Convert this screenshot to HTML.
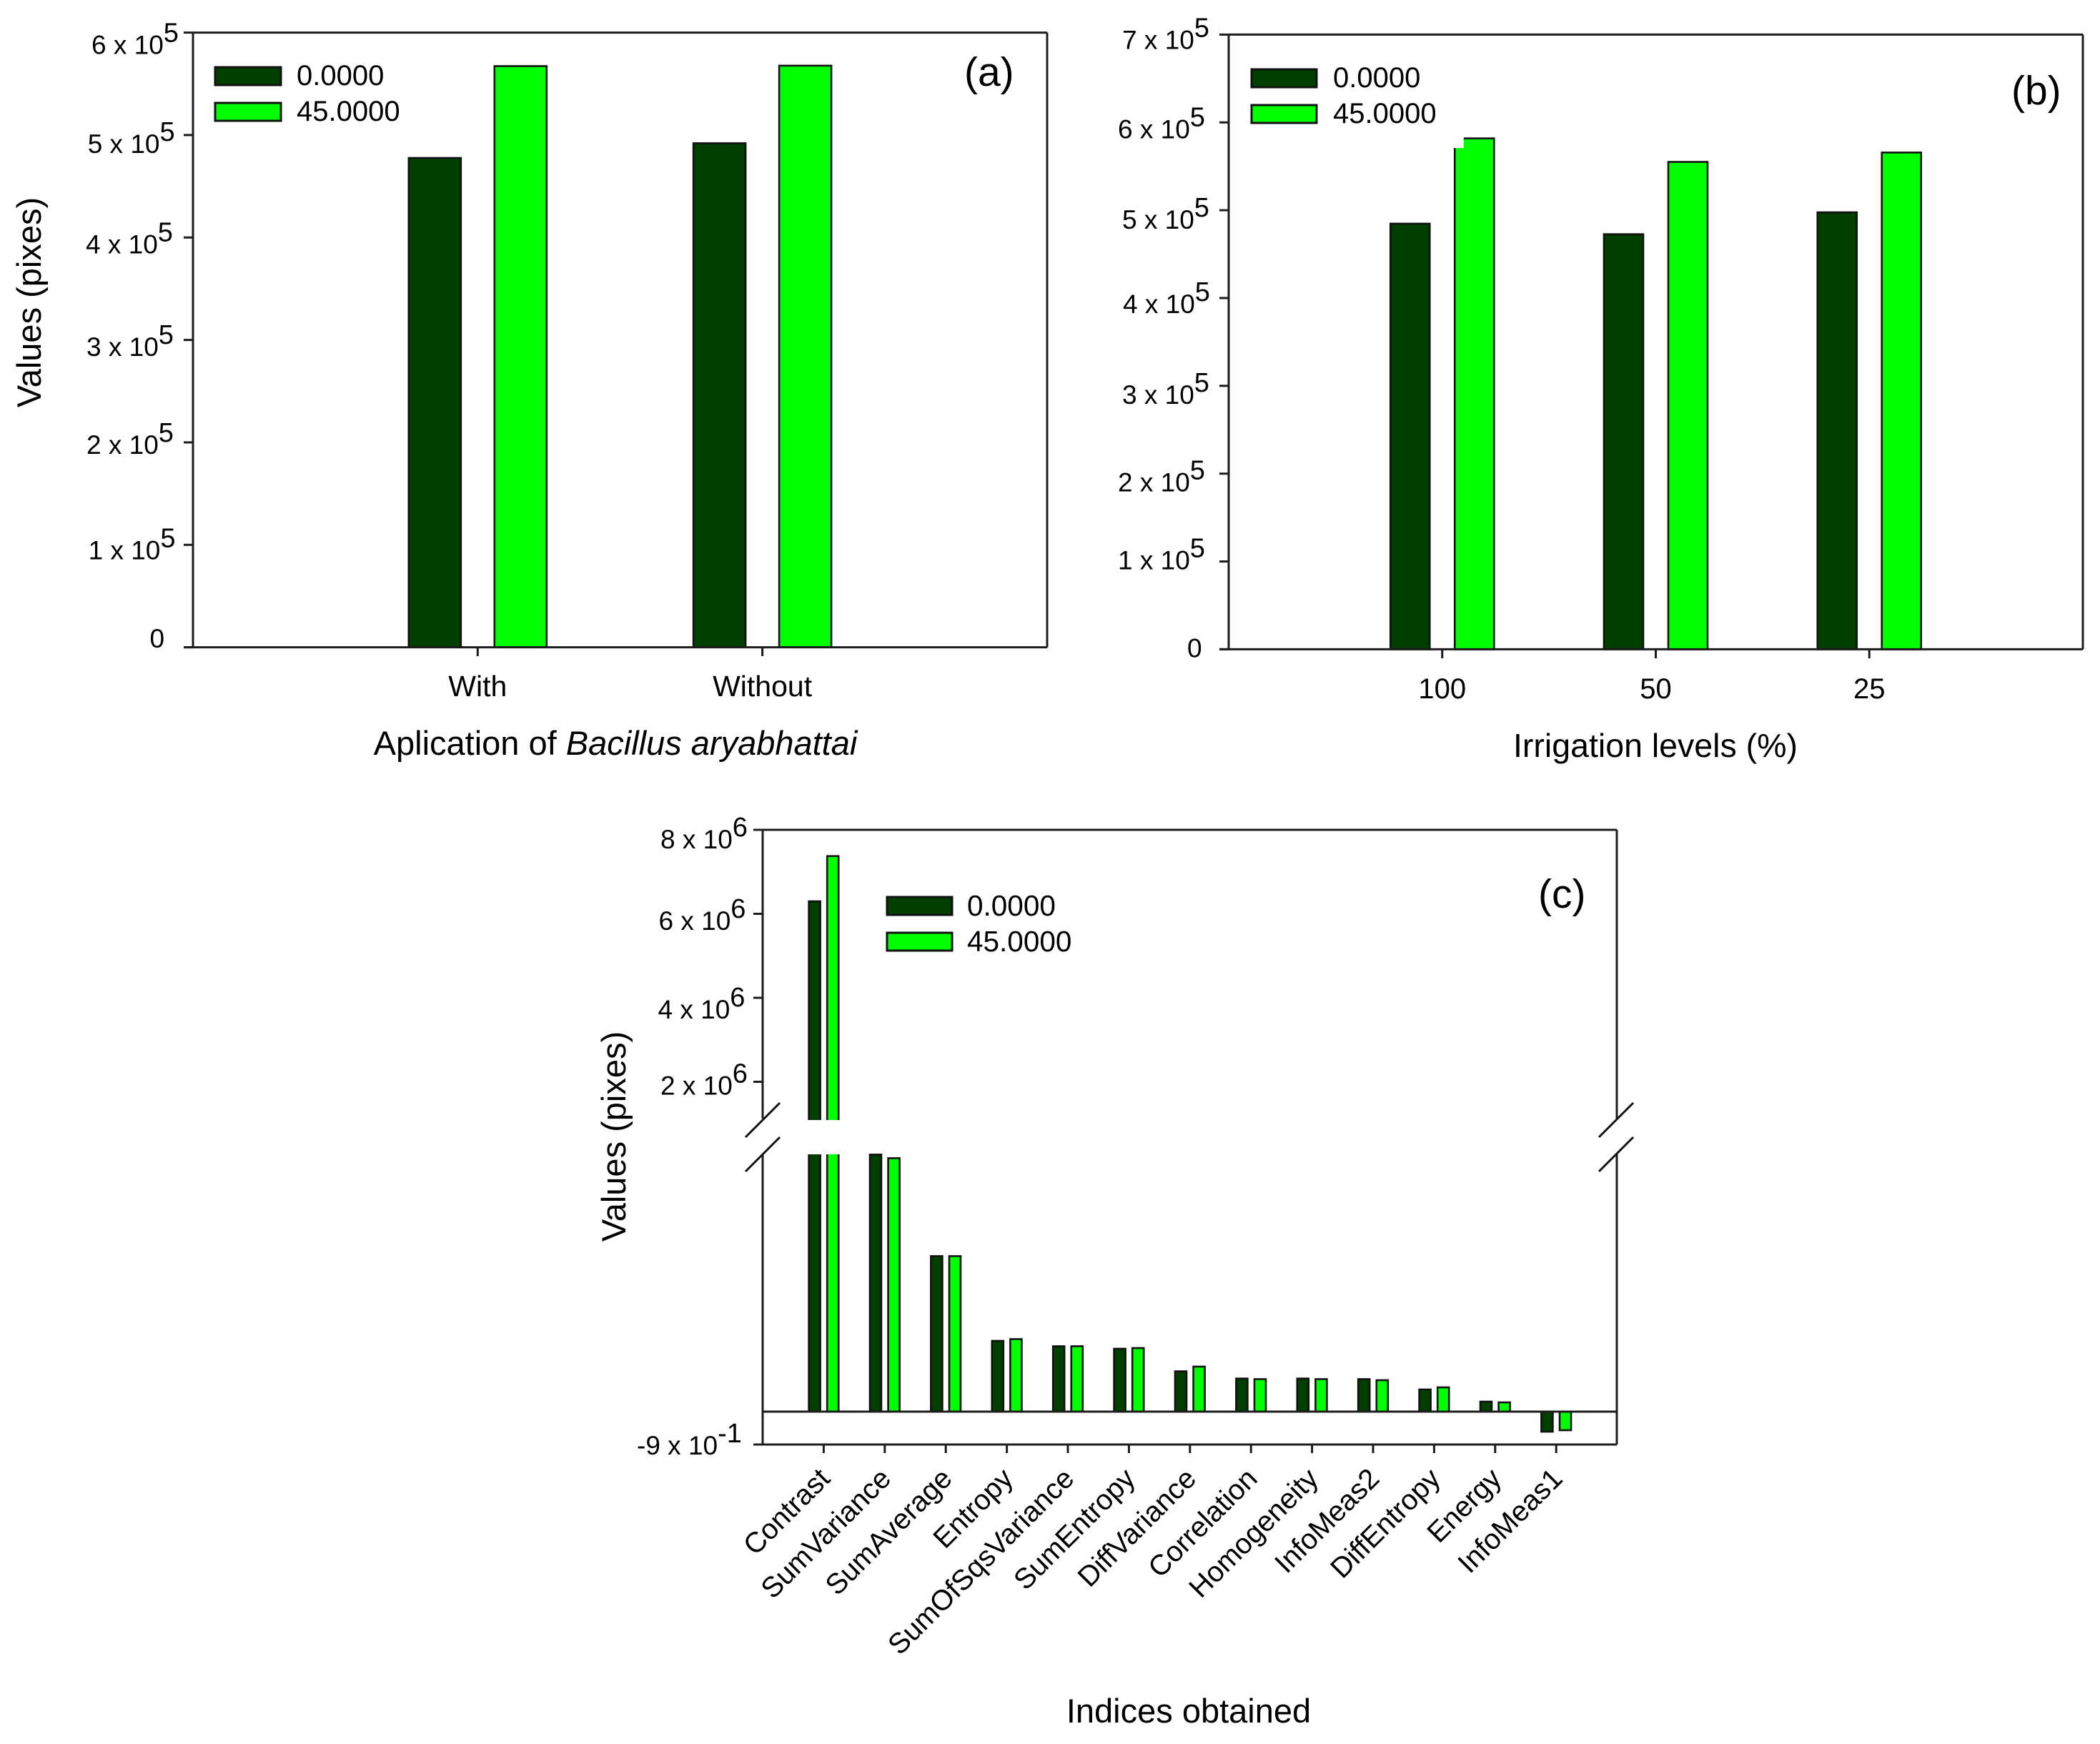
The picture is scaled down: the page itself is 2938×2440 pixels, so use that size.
<!DOCTYPE html>
<html lang="en">
<head>
<meta charset="utf-8">
<title>Bar charts (a), (b), (c)</title>
<style>
html,body{margin:0;padding:0;background:#fff;}
svg{display:block;}
text{font-family:"Liberation Sans",Arial,sans-serif;fill:#000;}
</style>
</head>
<body>
<svg id="figure" xmlns="http://www.w3.org/2000/svg" width="2938" height="2440" viewBox="0 0 2938 2440">
  <defs>
    <clipPath id="clip-c-upper"><rect x="1067" y="1161" width="1195" height="406"/></clipPath>
    <clipPath id="clip-c-lower"><rect x="1067" y="1615" width="1195" height="406"/></clipPath>
  </defs>
  <rect x="0" y="0" width="2938" height="2440" fill="#fff"/>

  <g id="panel-a">
    <text transform="translate(57,423) rotate(-90)" text-anchor="middle" font-size="47">Values (pixes)</text>
    <text x="861" y="1056" text-anchor="middle" font-size="47">Aplication of <tspan font-style="italic">Bacillus aryabhattai</tspan></text>
    <text x="1349" y="120" font-size="57">(a)</text>
    <g>
      <rect x="301" y="94" width="92" height="25" fill="#003f00" stroke="#111" stroke-width="3"/>
      <rect x="301" y="144" width="92" height="25" fill="#00ff00" stroke="#111" stroke-width="3"/>
      <text x="415" y="119" font-size="40">0.0000</text>
      <text x="415" y="169" font-size="40">45.0000</text>
    </g>
  </g>

  <g id="panel-b">
    <text x="2316" y="1059" text-anchor="middle" font-size="46.5">Irrigation levels (%)</text>
    <text x="2814" y="146" font-size="57">(b)</text>
    <g>
      <rect x="1751" y="97" width="91" height="25" fill="#003f00" stroke="#111" stroke-width="3"/>
      <rect x="1751" y="147" width="91" height="25" fill="#00ff00" stroke="#111" stroke-width="3"/>
      <text x="1865" y="122" font-size="40">0.0000</text>
      <text x="1865" y="172" font-size="40">45.0000</text>
    </g>
  </g>

  <g id="panel-c">
    <text transform="translate(875,1590) rotate(-90)" text-anchor="middle" font-size="47">Values (pixes)</text>
    <text x="1663" y="2410" text-anchor="middle" font-size="47">Indices obtained</text>
    <text x="2152" y="1270" font-size="57">(c)</text>
    <g>
      <rect x="1241" y="1255" width="91" height="25" fill="#003f00" stroke="#111" stroke-width="3"/>
      <rect x="1241" y="1305" width="91" height="25" fill="#00ff00" stroke="#111" stroke-width="3"/>
      <text x="1353" y="1281" font-size="40.5">0.0000</text>
      <text x="1353" y="1331" font-size="40.5">45.0000</text>
    </g>
  </g>
</svg>

<script>
// ---- chart data ----
const aCategories = ['With', 'Without'];
const aSeries0 = [4.776e5, 4.92e5];
const aSeries45 = [5.673e5, 5.677e5];
const aTickValues = [0, 1e5, 2e5, 3e5, 4e5, 5e5, 6e5];
const aTickLabels = ['0', '1 x 10', '2 x 10', '3 x 10', '4 x 10', '5 x 10', '6 x 10'];
const aTickExponents = ['', '5', '5', '5', '5', '5', '5'];

const bCategories = ['100', '50', '25'];
const bSeries0 = [4.847e5, 4.727e5, 4.976e5];
const bSeries45 = [5.818e5, 5.55e5, 5.657e5];
const bTickValues = [0, 1e5, 2e5, 3e5, 4e5, 5e5, 6e5, 7e5];
const bTickLabels = ['0', '1 x 10', '2 x 10', '3 x 10', '4 x 10', '5 x 10', '6 x 10', '7 x 10'];
const bTickExponents = ['', '5', '5', '5', '5', '5', '5', '5'];

const cCategories = ['Contrast', 'SumVariance', 'SumAverage', 'Entropy', 'SumOfSqsVariance', 'SumEntropy', 'DiffVariance', 'Correlation', 'Homogeneity', 'InfoMeas2', 'DiffEntropy', 'Energy', 'InfoMeas1'];
const cSeries0 = [6.298e6, 7.036, 4.257, 1.937, 1.79, 1.722, 1.104, 0.906, 0.906, 0.89, 0.607, 0.274, -0.548];
const cSeries45 = [7.375e6, 6.938, 4.257, 1.986, 1.79, 1.741, 1.233, 0.89, 0.89, 0.861, 0.665, 0.254, -0.509];
const cTickValues = [-0.9, 2e6, 4e6, 6e6, 8e6];
const cTickLabels = ['-9 x 10', '2 x 10', '4 x 10', '6 x 10', '8 x 10'];
const cTickExponents = ['-1', '6', '6', '6', '6'];

// ---- hand-placed label nudges (layout, not data): offsets from axis / tick ----
const aLabelNudgeX = [-60.5, -146.4, -149, -149, -150, -147.3, -142];
const aLabelNudgeY = [0.5, 20, 16, 22.5, 22, 25, 30];
const bLabelNudgeX = [-58, -155, -155, -149, -148, -149, -155, -149];
const bLabelNudgeY = [11, 11, 25, 25, 21, 26, 22, 20];
const cLabelNudgeX = [-176, -143, -146.5, -145.5, -143];
const cLabelNudgeY = [14, 18, 29, 22.6, 26];

// ---- axis functions ----
function aX(c) { return 270 + c * 398.3; }
function aY(v) { return 905.6 - v / 6e5 * 860; }
function bX(c) { return 1719 + c * 298.75; }
function bY(v) { return 908.4 - v / 7e5 * 860; }
function cX(c) { return 1067 + c * 85.4; }
const C_BREAK_VALUE = 1000;
function cY(v) {
  if (v > C_BREAK_VALUE) return 1161 + (8e6 - v) * 117.5 / 2e6;
  return 1975 - v * 46 / 0.9;
}

const SVG_NS = 'http://www.w3.org/2000/svg';
const DARK = '#003f00';
const LIGHT = '#00ff00';
const LINE = '#1c1c1c';

function make(parent, tag, attrs, txt) {
  const el = document.createElementNS(SVG_NS, tag);
  for (const k in attrs) el.setAttribute(k, attrs[k]);
  if (txt !== undefined) el.textContent = txt;
  parent.appendChild(el);
  return el;
}

function drawFrame(parent, left, right, top, bottom, breakTop, breakBottom) {
  const segs = breakTop === undefined
    ? [[left, top, left, bottom], [right, top, right, bottom]]
    : [[left, top, left, breakTop], [left, breakBottom, left, bottom], [right, top, right, breakTop], [right, breakBottom, right, bottom]];
  segs.push([left, top, right, top]);
  segs.push([left - 13, bottom, right, bottom]);
  segs.forEach(function (s) {
    const el = make(parent, 'line', { x1: s[0], y1: s[1], x2: s[2], y2: s[3], stroke: LINE, 'stroke-width': 3 });
    
    
  });
}

function drawYTicks(parent, yFn, axisX, values, labels, exps, nudgeX, nudgeY) {
  values.forEach(function (v, i) {
    const y = yFn(v);
    const tick = make(parent, 'line', { x1: axisX - 13, y1: y, x2: axisX, y2: y, stroke: LINE, 'stroke-width': 3 });
    
    
    const t = make(parent, 'text', { x: axisX + nudgeX[i], y: y + nudgeY[i], 'font-size': 37 });
    
    
    make(t, 'tspan', {}, labels[i]);
    if (exps[i]) make(t, 'tspan', { dy: -17, 'font-size': 38 }, exps[i]);
  });
}

function drawBar(parent, x, w, y0, y1, fill, name) {
  const el = make(parent, 'rect', { x: x, y: Math.min(y0, y1), width: w, height: Math.abs(y1 - y0), fill: fill, stroke: '#111', 'stroke-width': 2.6 });
  
  
  return el;
}

// ---- panel a ----
(function () {
  const g = document.getElementById('panel-a');
  const barW = 73, off = 60;
  aCategories.forEach(function (cat, i) {
    const cx = aX(i + 1);
    drawBar(g, cx - off - barW / 2, barW, aY(aSeries0[i]), aY(0), DARK, 'bar-0-' + cat.toLowerCase());
    drawBar(g, cx + off - barW / 2, barW, aY(aSeries45[i]), aY(0), LIGHT, 'bar-45-' + cat.toLowerCase());
    const tick = make(g, 'line', { x1: cx, y1: 905.6, x2: cx, y2: 918, stroke: LINE, 'stroke-width': 3 });
    
    
    const t = make(g, 'text', { x: cx, y: 974, 'text-anchor': 'middle', 'font-size': 41 }, cat);
    
    
  });
  drawFrame(g, 270, 1465, 45.6, 905.6);
  drawYTicks(g, aY, 270, aTickValues, aTickLabels, aTickExponents, aLabelNudgeX, aLabelNudgeY);
})();

// ---- panel b ----
(function () {
  const g = document.getElementById('panel-b');
  const barW = 55, off = 45;
  bCategories.forEach(function (cat, i) {
    const cx = bX(i + 1);
    drawBar(g, cx - off - barW / 2, barW, bY(bSeries0[i]), bY(0), DARK, 'bar-0-' + cat);
    drawBar(g, cx + off - barW / 2, barW, bY(bSeries45[i]), bY(0), LIGHT, 'bar-45-' + cat);
    if (i === 0) {
      const notch = make(g, 'rect', { x: cx + off - barW / 2 - 2, y: bY(bSeries45[i]) - 2, width: 14.5, height: 15.5, fill: '#fff' });
      
      
    }
    const tick = make(g, 'line', { x1: cx, y1: 908.4, x2: cx, y2: 921, stroke: LINE, 'stroke-width': 3 });
    
    
    const t = make(g, 'text', { x: cx, y: 977, 'text-anchor': 'middle', 'font-size': 40 }, cat);
    
    
  });
  drawFrame(g, 1719, 2914, 48.4, 908.4);
  drawYTicks(g, bY, 1719, bTickValues, bTickLabels, bTickExponents, bLabelNudgeX, bLabelNudgeY);
})();

// ---- panel c ----
(function () {
  const g = document.getElementById('panel-c');
  const barW = 16, off = 12.8;
  const breakUpper = 1567, breakLower = 1615;
  function drawC(x, v, fill, name) {
    if (v > C_BREAK_VALUE) {
      const up = drawBar(g, x, barW, cY(v), breakUpper + 6, fill, name + '-upper');
      up.setAttribute('clip-path', 'url(#clip-c-upper)');
      const low = drawBar(g, x, barW, breakLower - 6, cY(0), fill, name + '-lower');
      low.setAttribute('clip-path', 'url(#clip-c-lower)');
    } else {
      drawBar(g, x, barW, cY(v), cY(0), fill, name);
    }
  }
  cCategories.forEach(function (cat, i) {
    const cx = cX(i + 1);
    drawC(cx - off - barW / 2, cSeries0[i], DARK, 'bar-0-' + cat.toLowerCase());
    drawC(cx + off - barW / 2, cSeries45[i], LIGHT, 'bar-45-' + cat.toLowerCase());
    const tick = make(g, 'line', { x1: cx, y1: 2021, x2: cx, y2: 2033, stroke: LINE, 'stroke-width': 3 });
    
    
    const tx = cx + 11, ty = 2071;
    const t = make(g, 'text', { x: tx, y: ty, 'text-anchor': 'end', 'font-size': 40, transform: 'rotate(-45 ' + tx + ' ' + ty + ')' }, cat);
    
    
  });
  drawFrame(g, 1067, 2262, 1161, 2021, 1565, 1615);
  const zero = make(g, 'line', { x1: 1067, y1: cY(0), x2: 2262, y2: cY(0), stroke: LINE, 'stroke-width': 3 });
  
  
  drawYTicks(g, cY, 1067, cTickValues, cTickLabels, cTickExponents, cLabelNudgeX, cLabelNudgeY);
  [1067, 2262].forEach(function (ax) {
    const dx = ax === 1067 ? 0 : -1;
    [1591, 1639].forEach(function (y) {
      const s = make(g, 'line', { x1: ax - 24 + dx, y1: y, x2: ax + 24 + dx, y2: y - 48, stroke: '#111', 'stroke-width': 3 });
      
      
    });
  });
})();
</script>
</body>
</html>
